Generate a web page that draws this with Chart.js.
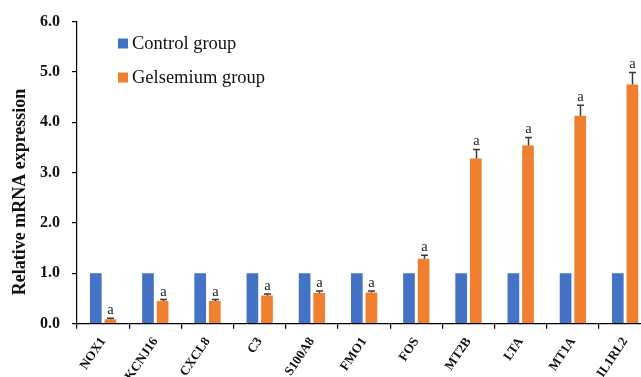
<!DOCTYPE html>
<html>
<head>
<meta charset="utf-8">
<script src="https://cdn.jsdelivr.net/npm/chart.js@4.4.1/dist/chart.umd.min.js"></script>
<style>
  html, body { margin: 0; padding: 0; background: #fff; overflow: hidden; width: 641px; height: 377px; }
  #wrap { position: absolute; left: 0; top: 0; }
</style>
</head>
<body>
<div id="wrap"><canvas id="c" width="680" height="377"></canvas></div>
<script>
// Relative mRNA expression per gene
const genes = ['NOX1', 'KCNJ16', 'CXCL8', 'C3', 'S100A8', 'FMO1', 'FOS', 'MT2B', 'LTA', 'MT1A', 'IL1RL2'];
const controlValues = [1.0, 1.0, 1.0, 1.0, 1.0, 1.0, 1.0, 1.0, 1.0, 1.0, 1.0];
const gelsemiumValues = [0.09, 0.45, 0.45, 0.56, 0.61, 0.62, 1.29, 3.28, 3.54, 4.13, 4.75];
const gelsemiumErrors = [0.02, 0.03, 0.03, 0.03, 0.04, 0.03, 0.07, 0.18, 0.16, 0.21, 0.24];
const significance = ['a', 'a', 'a', 'a', 'a', 'a', 'a', 'a', 'a', 'a', 'a'];
const yTickValues = [0, 1, 2, 3, 4, 5, 6];

const seriesNames = ['Control group', 'Gelsemium group'];
const BLUE = '#4472C4';
const ORANGE = '#F07F2F';
const SERIF = '"Liberation Serif", "Times New Roman", serif';

// Upward error bars with caps, and significance letters above them
const errorBarPlugin = {
  id: 'errorBars',
  afterDatasetsDraw(chart) {
    const ctx = chart.ctx;
    const yScale = chart.scales.y;
    const meta = chart.getDatasetMeta(1);
    ctx.save();
    meta.data.forEach((bar, i) => {
      const top = yScale.getPixelForValue(gelsemiumValues[i] + gelsemiumErrors[i]);
      const x = Math.round(bar.x) + 0.5;
      ctx.strokeStyle = '#3a3a3a';
      ctx.lineWidth = 1.5;
      ctx.beginPath();
      ctx.moveTo(x, bar.y);
      ctx.lineTo(x, top);
      ctx.moveTo(x - 3.5, top);
      ctx.lineTo(x + 3.5, top);
      ctx.stroke();
      ctx.fillStyle = '#222';
      ctx.font = '14.5px ' + SERIF;
      ctx.textAlign = 'center';
      ctx.textBaseline = 'alphabetic';
      ctx.fillText(significance[i], x, top - 4);
    });
    ctx.restore();
  }
};

// Legend and rotated axis title
const annotationPlugin = {
  id: 'legendAndTitle',
  afterDraw(chart) {
    const ctx = chart.ctx;
    ctx.save();
    const rows = [43.5, 77.5];
    chart.data.datasets.forEach((ds, i) => {
      ctx.fillStyle = ds.backgroundColor;
      ctx.fillRect(118, rows[i] - 5, 10, 10);
      ctx.fillStyle = '#111';
      ctx.font = '18.5px ' + SERIF;
      ctx.textAlign = 'left';
      ctx.textBaseline = 'middle';
      ctx.fillText(ds.label, 132, rows[i] + 1);
    });
    ctx.translate(20, 192);
    ctx.rotate(-Math.PI / 2);
    ctx.font = 'bold 18px ' + SERIF;
    ctx.fillStyle = '#111';
    ctx.textAlign = 'center';
    ctx.textBaseline = 'middle';
    ctx.fillText('Relative mRNA expression', 0, 0);
    ctx.restore();
  }
};

new Chart(document.getElementById('c'), {
  type: 'bar',
  data: {
    labels: genes,
    datasets: [
      { label: seriesNames[0], data: controlValues, backgroundColor: BLUE },
      { label: seriesNames[1], data: gelsemiumValues, backgroundColor: ORANGE }
    ]
  },
  options: {
    responsive: false,
    animation: false,
    devicePixelRatio: 1,
    layout: { padding: { left: 0, top: 21, right: 28.8, bottom: 0 } },
    datasets: { bar: { categoryPercentage: 0.56, barPercentage: 0.8 } },
    plugins: { legend: { display: false }, tooltip: { enabled: false } },
    scales: {
      x: {
        grid: { display: true, offset: true, drawOnChartArea: false, drawTicks: true, tickLength: 5, color: '#000', lineWidth: 1.2 },
        border: { display: true, color: '#000', width: 1.2 },
        ticks: {
          autoSkip: false, minRotation: 56, maxRotation: 56, padding: 6,
          color: '#111', font: { family: SERIF, size: 13, weight: 'bold' }
        },
        afterFit(scale) { scale.height = 53.3; }
      },
      y: {
        min: 0, max: 6,
        afterBuildTicks(scale) { scale.ticks = yTickValues.map(v => ({ value: v })); },
        grid: { display: true, drawOnChartArea: false, drawTicks: true, tickLength: 5, color: '#000', lineWidth: 1.2 },
        border: { display: true, color: '#000', width: 1.2 },
        ticks: {
          padding: 12, color: '#111',
          font: { family: SERIF, size: 16, weight: 'bold' },
          callback: v => Number(v).toFixed(1)
        },
        afterFit(scale) { scale.width = 77; }
      }
    }
  },
  plugins: [errorBarPlugin, annotationPlugin]
});
</script>
</body>
</html>
